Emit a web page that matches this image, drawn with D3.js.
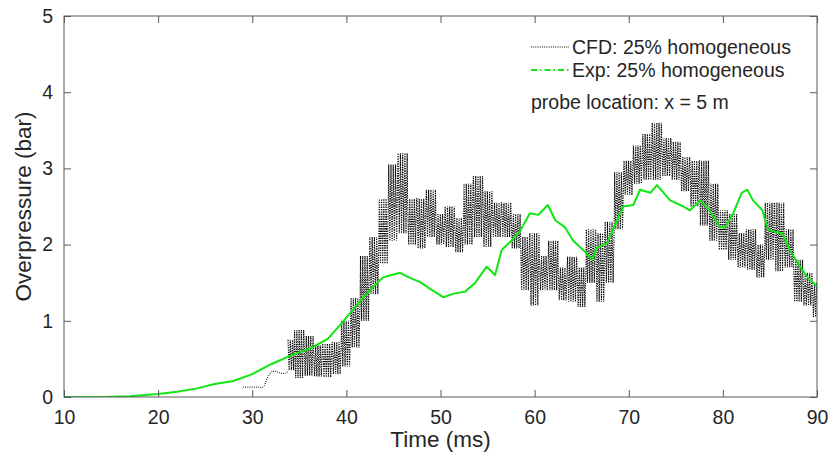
<!DOCTYPE html>
<html>
<head>
<meta charset="utf-8">
<script src="https://cdn.jsdelivr.net/npm/d3@7"></script>
<style>
  body { margin: 0; background: #fff; }
  svg text { font-family: "Liberation Sans", Arial, sans-serif; fill: #262626; }
</style>
</head>
<body>
<div id="wrapper"></div>
<script>
// CFD: pressure trace before the oscillating part
const cfdEarlyTime = [29.0, 30.7, 31.0, 31.3, 31.6, 32.0, 32.5, 33.0, 33.5, 33.8];
const cfdEarlyVal  = [0.13, 0.13, 0.12, 0.15, 0.25, 0.33, 0.34, 0.31, 0.31, 0.33];

// CFD: oscillating part, upper and lower envelope
const cfdTime = [34, 35, 36, 37, 38, 39, 40, 41, 42, 43, 44, 45, 46, 47, 48, 49, 50, 51, 52, 53, 54, 55, 56, 57, 58, 59, 60, 61, 62, 63, 64, 65, 66, 67, 68, 69, 70, 71, 72, 73, 74, 75, 76, 77, 78, 79, 80, 81, 82, 83, 84, 85, 86, 87, 88, 89, 90];
const cfdHigh = [0.75, 0.88, 0.80, 0.68, 0.70, 0.72, 1.00, 1.30, 1.85, 2.10, 2.60, 3.05, 3.20, 2.60, 2.60, 2.72, 2.40, 2.50, 2.35, 2.80, 2.90, 2.70, 2.55, 2.55, 2.40, 2.10, 2.15, 1.85, 2.05, 1.70, 1.84, 1.70, 2.20, 2.15, 2.30, 2.95, 3.10, 3.30, 3.45, 3.60, 3.40, 3.35, 3.15, 3.10, 3.10, 2.80, 2.45, 2.40, 2.15, 2.20, 2.00, 2.55, 2.55, 2.20, 1.80, 1.63, 1.50];
const cfdLow  = [0.35, 0.25, 0.28, 0.27, 0.26, 0.30, 0.40, 0.65, 1.00, 1.35, 1.75, 2.05, 2.15, 2.00, 1.95, 2.10, 2.00, 1.97, 1.90, 2.00, 2.10, 1.97, 2.10, 2.10, 1.95, 1.40, 1.20, 1.40, 1.40, 1.27, 1.25, 1.18, 1.50, 1.25, 1.50, 2.20, 2.65, 2.80, 2.85, 2.85, 2.90, 2.85, 2.70, 2.50, 2.25, 2.05, 1.93, 1.80, 1.70, 1.67, 1.57, 1.80, 1.65, 1.70, 1.25, 1.20, 1.05];

// Experiment
const expTime = [10, 14, 17, 20, 22, 24, 26, 28, 30, 32, 34, 36, 38, 39.3, 40.4, 41.4, 42.8, 43.9, 44.8, 45.7, 46.8, 47.8, 48.9, 50.3, 51.5, 52.6, 53.7, 54.9, 55.8, 56.5, 57.6, 58.4, 59.5, 60.4, 61.4, 62.2, 63.2, 64.1, 65.5, 66.1, 66.6, 67.7, 68.3, 69.4, 70.5, 71.2, 72.3, 73.0, 74.4, 75.8, 76.5, 77.6, 78.6, 79.7, 80.2, 81.1, 82.0, 82.6, 83.2, 84.2, 84.8, 85.5, 86.3, 87.1, 88.2, 89.0, 90];
const expVal  = [0, 0, 0.01, 0.04, 0.07, 0.11, 0.17, 0.21, 0.30, 0.43, 0.54, 0.63, 0.76, 0.94, 1.10, 1.25, 1.44, 1.57, 1.60, 1.63, 1.56, 1.51, 1.42, 1.31, 1.36, 1.38, 1.50, 1.71, 1.60, 1.93, 2.06, 2.17, 2.41, 2.39, 2.52, 2.32, 2.23, 2.05, 1.89, 1.80, 1.96, 2.02, 2.19, 2.50, 2.52, 2.72, 2.68, 2.78, 2.58, 2.50, 2.45, 2.58, 2.45, 2.23, 2.22, 2.41, 2.68, 2.72, 2.58, 2.45, 2.19, 2.17, 2.15, 1.93, 1.71, 1.57, 1.45];

const xTicks = [10, 20, 30, 40, 50, 60, 70, 80, 90];
const yTicks = [0, 1, 2, 3, 4, 5];
const legendLabels = ["CFD: 25% homogeneous", "Exp: 25% homogeneous"];
const noteText = "probe location: x = 5 m";

const dimension = {
    width: 833,
    height: 466,
    margin: { top: 16, left: 64, bottom: 69, right: 16 }
};
dimension.boundedWidth = dimension.width - dimension.margin.left - dimension.margin.right;
dimension.boundedHeight = dimension.height - dimension.margin.top - dimension.margin.bottom;

const svg = d3.select("#wrapper").append("svg")
    .attr("width", dimension.width)
    .attr("height", dimension.height);

const bounded = svg.append("g")
    .attr("transform", `translate(${dimension.margin.left},${dimension.margin.top})`);

const xScaler = d3.scaleLinear().domain([10, 90]).range([0, dimension.boundedWidth]);
const yScaler = d3.scaleLinear().domain([0, 5]).range([dimension.boundedHeight, 0]);

bounded.append("clipPath").attr("id", "clip")
    .append("rect").attr("width", dimension.boundedWidth).attr("height", dimension.boundedHeight);

const plot = bounded.append("g").attr("clip-path", "url(#clip)");

// oscillating CFD trace: each envelope sample is held over its own time slot
const cfdPoints = [];
cfdTime.forEach((t, i) => {
    const from = i === 0 ? t - 0.2 : (cfdTime[i - 1] + t) / 2;
    const to = i === cfdTime.length - 1 ? t + 0.2 : (t + cfdTime[i + 1]) / 2;
    let k = 0;
    for (let s = from; s < to; s += 0.12, k++) {
        cfdPoints.push([s, k % 2 === 0 ? cfdHigh[i] : cfdLow[i]]);
    }
});

const line = d3.line().x(d => xScaler(d[0])).y(d => yScaler(d[1]));

plot.append("path")
    .attr("d", line(cfdEarlyTime.map((t, i) => [t, cfdEarlyVal[i]])))
    .attr("fill", "none")
    .attr("stroke", "#000")
    .attr("stroke-width", 1)
    .attr("stroke-dasharray", "1,1.2");

plot.append("path")
    .attr("d", line(cfdPoints))
    .attr("fill", "none")
    .attr("stroke", "#000")
    .attr("stroke-width", 1.1)
    .attr("stroke-dasharray", "1.3,1.1");

plot.append("path")
    .attr("d", line(expTime.map((t, i) => [t, expVal[i]])))
    .attr("fill", "none")
    .attr("stroke", "#11e611")
    .attr("stroke-width", 2)
    .attr("stroke-linejoin", "round");

// axes (MATLAB-style box, ticks inside)
const axisColor = "#5a5a5a";
const xAxis = d3.axisBottom(xScaler).tickValues(xTicks).tickSize(-7).tickPadding(13).tickFormat(d3.format("d"));
const yAxis = d3.axisLeft(yScaler).tickValues(yTicks).tickSize(-7).tickPadding(11).tickFormat(d3.format("d"));

const gx = bounded.append("g")
    .attr("transform", `translate(0,${dimension.boundedHeight})`)
    .call(xAxis);
const gy = bounded.append("g").call(yAxis);

[gx, gy].forEach(g => {
    g.select(".domain").remove();
    g.selectAll(".tick line").attr("stroke", axisColor);
    g.selectAll(".tick text").attr("font-size", 19.5).attr("fill", "#262626")
        .attr("font-family", "Liberation Sans, Arial, sans-serif");
});

bounded.append("g")
    .call(d3.axisTop(xScaler).tickValues(xTicks).tickSize(-7).tickFormat(""))
    .call(g => g.select(".domain").remove())
    .call(g => g.selectAll(".tick line").attr("stroke", axisColor));

bounded.append("g")
    .attr("transform", `translate(${dimension.boundedWidth},0)`)
    .call(d3.axisRight(yScaler).tickValues(yTicks).tickSize(-7).tickFormat(""))
    .call(g => g.select(".domain").remove())
    .call(g => g.selectAll(".tick line").attr("stroke", axisColor));

bounded.append("rect")
    .attr("width", dimension.boundedWidth)
    .attr("height", dimension.boundedHeight)
    .attr("fill", "none")
    .attr("stroke", axisColor)
    .attr("stroke-width", 1);

// axis labels
svg.append("text")
    .attr("x", dimension.margin.left + dimension.boundedWidth / 2)
    .attr("y", 447)
    .attr("text-anchor", "middle")
    .attr("font-size", 22.5)
    .text("Time (ms)");

svg.append("text")
    .attr("transform", `translate(31,${dimension.margin.top + dimension.boundedHeight / 2}) rotate(-90)`)
    .attr("text-anchor", "middle")
    .attr("font-size", 22.5)
    .text("Overpressure (bar)");

// legend
const legend = svg.append("g").attr("transform", "translate(531,0)");
legend.append("line")
    .attr("x1", 0).attr("x2", 38).attr("y1", 47).attr("y2", 47)
    .attr("stroke", "#000").attr("stroke-width", 1).attr("stroke-dasharray", "1,1.2");
legend.append("line")
    .attr("x1", 0).attr("x2", 38).attr("y1", 70).attr("y2", 70)
    .attr("stroke", "#11e611").attr("stroke-width", 1.8).attr("stroke-dasharray", "6,3,1.5,3");
legend.selectAll("text.leg")
    .data(legendLabels)
    .join("text")
    .attr("class", "leg")
    .attr("x", 41)
    .attr("y", (d, i) => 54 + i * 23)
    .attr("font-size", 19.5)
    .text(d => d);

svg.append("text")
    .attr("x", 531)
    .attr("y", 109)
    .attr("font-size", 19.5)
    .text(noteText);
</script>
</body>
</html>
